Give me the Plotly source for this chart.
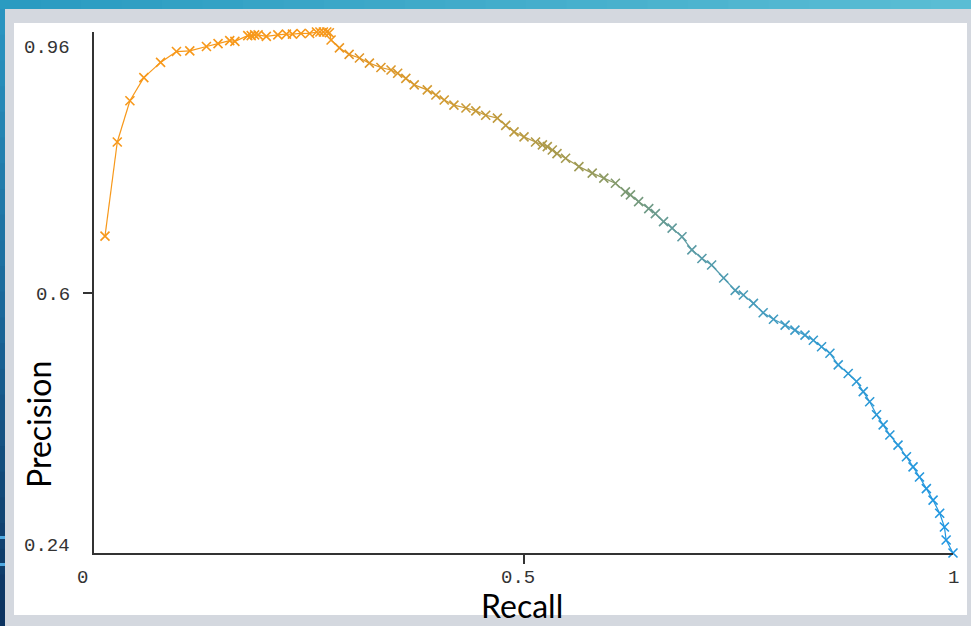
import plotly.graph_objects as go
from plotly.colors import sample_colorscale

# ---- data (precision/recall curve) ----
recall = [
    0.0128, 0.0271, 0.0418, 0.058, 0.0775, 0.096, 0.1115, 0.1309, 0.1444, 0.158,
    0.164, 0.179, 0.183, 0.187, 0.191, 0.2006, 0.214, 0.224, 0.231, 0.241,
    0.251, 0.259, 0.263, 0.267, 0.271, 0.274, 0.276, 0.2857, 0.297, 0.309,
    0.3206, 0.334, 0.3458, 0.3535, 0.363, 0.3728, 0.388, 0.398, 0.4077, 0.419,
    0.433, 0.4445, 0.456, 0.4696, 0.4793, 0.489, 0.5006, 0.514, 0.522, 0.5277,
    0.5335, 0.539, 0.549, 0.5645, 0.58, 0.5935, 0.607, 0.6186, 0.6245, 0.634,
    0.6458, 0.6535, 0.663, 0.673, 0.6845, 0.696, 0.7077, 0.719, 0.733, 0.7464,
    0.756, 0.7677, 0.779, 0.791, 0.8045, 0.816, 0.8277, 0.8374, 0.847, 0.8567,
    0.8664, 0.878, 0.8877, 0.8955, 0.903, 0.911, 0.9187, 0.9265, 0.936, 0.9458,
    0.9535, 0.961, 0.969, 0.9768, 0.9845, 0.990, 0.992, 1.0,
]
precision = [
    0.678, 0.808, 0.865, 0.897, 0.918, 0.933, 0.934, 0.940, 0.944, 0.948,
    0.947, 0.955, 0.955, 0.956, 0.956, 0.954, 0.956, 0.957, 0.957, 0.958,
    0.958, 0.960, 0.960, 0.960, 0.960, 0.959, 0.949, 0.938, 0.929, 0.924,
    0.917, 0.911, 0.9075, 0.903, 0.896, 0.887, 0.880, 0.873, 0.866, 0.859,
    0.855, 0.851, 0.845, 0.841, 0.831, 0.822, 0.815, 0.808, 0.804, 0.8015,
    0.797, 0.792, 0.7855, 0.774, 0.765, 0.758, 0.751, 0.739, 0.735, 0.7255,
    0.716, 0.709, 0.698, 0.689, 0.677, 0.659, 0.647, 0.638, 0.620, 0.603,
    0.5966, 0.585, 0.572, 0.563, 0.555, 0.548, 0.541, 0.534, 0.525, 0.516,
    0.500, 0.488, 0.477, 0.463, 0.449, 0.431, 0.417, 0.403, 0.389, 0.373,
    0.359, 0.345, 0.329, 0.313, 0.295, 0.276, 0.258, 0.240,
]

x_ticks = [0, 0.5, 1]
x_tick_labels = ["0", "0.5", "1"]
y_ticks = [0.96, 0.6, 0.24]
y_tick_labels = ["0.96", "0.6", "0.24"]

# colour ramp (orange -> blue) keyed on recall
cscale = [
    [0.0, "#f7981a"], [0.27, "#f7981a"], [0.30, "#e49626"], [0.40, "#d29a30"],
    [0.50, "#b89a42"], [0.57, "#9c9a56"], [0.62, "#7c9a74"], [0.68, "#5e9ba0"],
    [0.75, "#4c9cb6"], [0.85, "#339bd0"], [1.0, "#1f96e2"],
]

W, H = 971, 626
L, R, T, B = 94, 953, 32, 553


def px(v):
    return (v - L) / (R - L)


def py(v):
    return (B - v) / (B - T)


fig = go.Figure()

# line segments coloured along the ramp
seg_cols = sample_colorscale(cscale, recall)
for i in range(len(recall) - 1):
    fig.add_trace(go.Scatter(
        x=recall[i:i + 2], y=precision[i:i + 2], mode="lines",
        line=dict(color=seg_cols[i], width=1.2), hoverinfo="skip",
        showlegend=False, cliponaxis=False))

fig.add_trace(go.Scatter(
    x=recall, y=precision, mode="markers", showlegend=False, cliponaxis=False,
    marker=dict(symbol="x-thin", size=9, color=recall, colorscale=cscale,
                cmin=0, cmax=1, line=dict(width=1.6, color=seg_cols)),
))

shapes = []
# white panel
shapes.append(dict(type="rect", xref="paper", yref="paper", layer="below",
                   x0=px(14), x1=px(967), y0=py(23), y1=py(615),
                   fillcolor="white", line=dict(width=0)))
# top gradient band
top_cols = sample_colorscale([[0, "#2a9bc1"], [1, "#5abdd4"]], [k / 23 for k in range(24)])
for k in range(24):
    shapes.append(dict(type="rect", xref="paper", yref="paper", layer="below",
                       x0=px(k * W / 24), x1=px((k + 1) * W / 24 + 1), y0=py(0), y1=py(9),
                       fillcolor=top_cols[k], line=dict(width=0)))
# left gradient band
left_cols = sample_colorscale([[0, "#2a94c0"], [0.5, "#1a6698"], [1, "#0c3360"]], [k / 23 for k in range(24)])
for k in range(24):
    y0p = 9 + k * (H - 9) / 24
    shapes.append(dict(type="rect", xref="paper", yref="paper", layer="below",
                       x0=px(0), x1=px(5), y0=py(y0p), y1=py(y0p + (H - 9) / 24 + 1),
                       fillcolor=left_cols[k], line=dict(width=0)))
for yy in (536, 563):
    shapes.append(dict(type="rect", xref="paper", yref="paper", layer="below",
                       x0=px(0), x1=px(5), y0=py(yy), y1=py(yy + 3),
                       fillcolor="#4fa8e0", line=dict(width=0)))

annotations = []
tick_font = dict(family="Liberation Mono, DejaVu Sans Mono, monospace", size=19, color="#333")
y_label_shift = [-16, -2, 7]
for v, t, s in zip(y_ticks, y_tick_labels, y_label_shift):
    annotations.append(dict(x=px(72), y=v, xref="paper", yref="y", text=t, showarrow=False,
                            xanchor="right", yanchor="middle", yshift=s, font=tick_font))
x_label_shift = [-12, -6, 0]
for v, t, s in zip(x_ticks, x_tick_labels, x_label_shift):
    annotations.append(dict(x=v, y=py(578), xref="x", yref="paper", text=t, showarrow=False,
                            xanchor="center", yanchor="middle", xshift=s, font=tick_font))

title_font = dict(family="Lato, Noto Sans, sans-serif", size=32, color="black")
annotations.append(dict(x=px(522), y=py(605), xref="paper", yref="paper", text="Recall",
                        showarrow=False, xanchor="center", yanchor="middle", font=title_font))
annotations.append(dict(x=px(38), y=py(425), xref="paper", yref="paper", text="Precision",
                        textangle=-90, showarrow=False, xanchor="center", yanchor="middle",
                        font=title_font))

fig.update_layout(
    width=W, height=H,
    margin=dict(l=L, r=W - R, t=T, b=H - B, pad=0),
    paper_bgcolor="#d4d8df", plot_bgcolor="rgba(0,0,0,0)",
    shapes=shapes, annotations=annotations,
    xaxis=dict(range=[0, 1], showgrid=False, zeroline=False, showline=True,
               linecolor="#333", linewidth=1.5, ticks="outside", tickvals=[0.5],
               ticklen=9, tickcolor="#333", tickwidth=1.5, showticklabels=False,
               fixedrange=True),
    yaxis=dict(range=[0.24, 0.96], showgrid=False, zeroline=False, showline=True,
               linecolor="#333", linewidth=1.5, ticks="outside", tickvals=[0.6],
               ticklen=9, tickcolor="#333", tickwidth=1.5, showticklabels=False,
               fixedrange=True),
)

fig.write_html(
    "out.html",
    config={"displayModeBar": False},
    post_script="document.body.style.margin='0';document.body.style.overflow='hidden';",
)
